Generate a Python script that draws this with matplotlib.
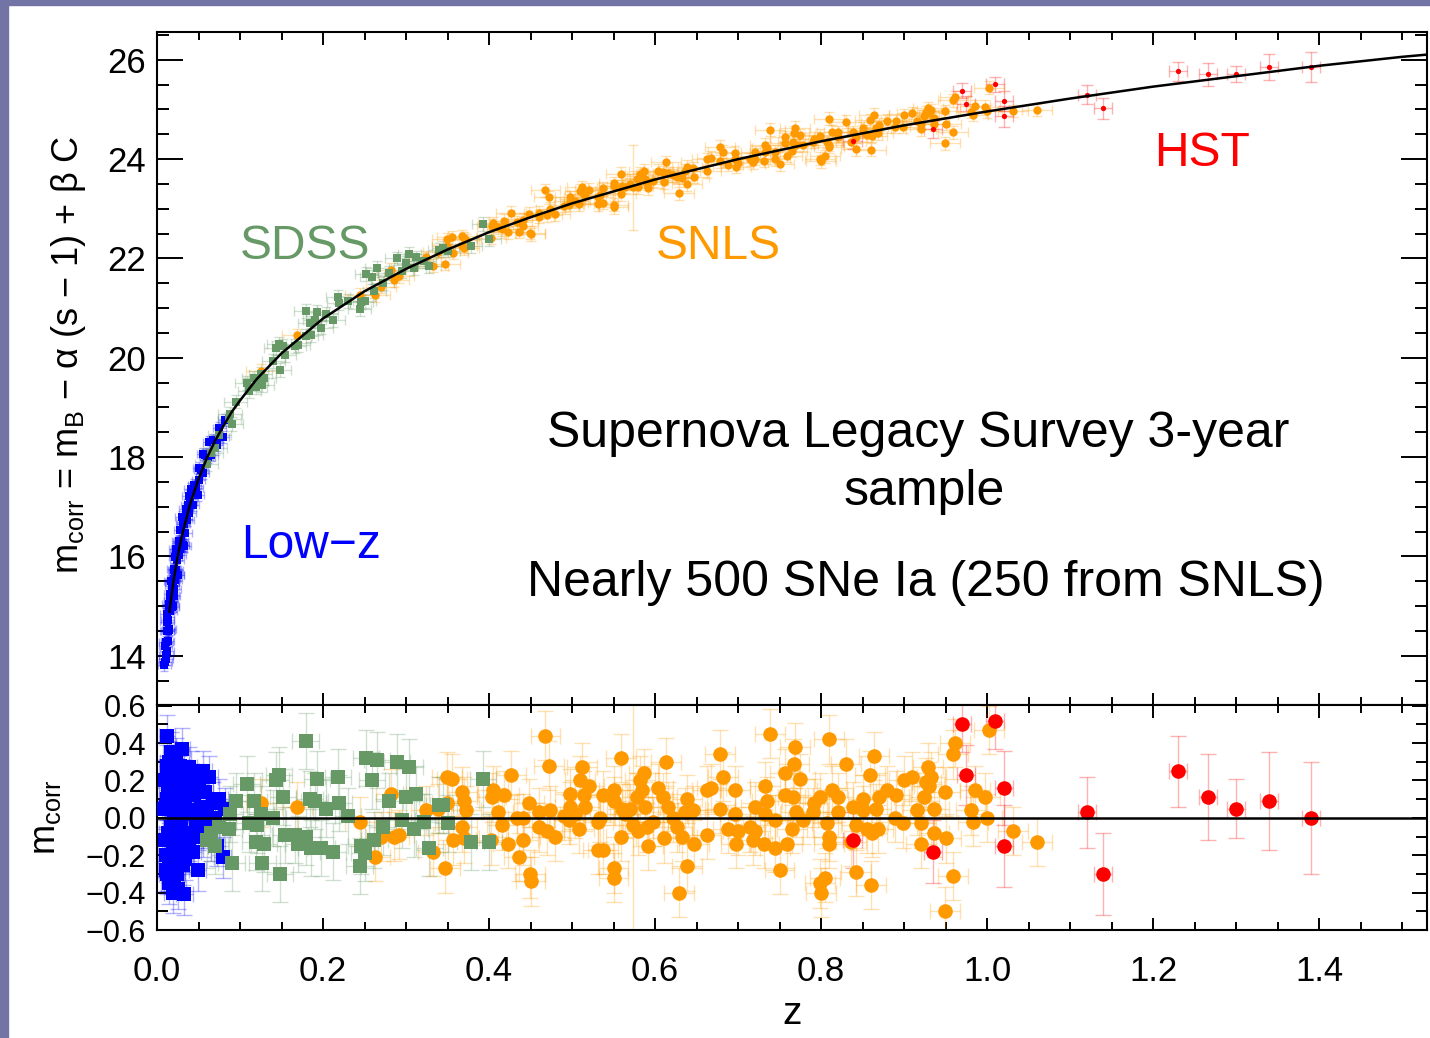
"""SNLS 3-year Hubble diagram: corrected magnitudes vs redshift, with residuals."""

import matplotlib.pyplot as plt
import numpy as np
from matplotlib.patches import Rectangle
from matplotlib.ticker import MultipleLocator

plt.rcParams["font.family"] = ["Liberation Sans", "DejaVu Sans"]
plt.rcParams["mathtext.fontset"] = "custom"
plt.rcParams["mathtext.rm"] = "Liberation Sans"
plt.rcParams["mathtext.it"] = "Liberation Sans:italic"

# %% Data
# best-fit model curve
model_z = [0.015, 0.02, 0.025, 0.03, 0.04, 0.05, 0.06, 0.07, 0.08, 0.09, 0.10,
           0.12, 0.15, 0.20, 0.25, 0.30, 0.35, 0.40, 0.45, 0.50, 0.60, 0.70,
           0.80, 0.90, 1.00, 1.10, 1.20, 1.30, 1.40, 1.50, 1.60]
model_m = [14.89, 15.52, 16.01, 16.42, 17.06, 17.56, 17.98, 18.33, 18.63, 18.91,
           19.14, 19.57, 20.09, 20.79, 21.34, 21.79, 22.18, 22.53, 22.83, 23.11,
           23.59, 24.00, 24.36, 24.68, 24.96, 25.22, 25.46, 25.67, 25.88, 26.06,
           26.21]

# Low-z sample
lowz_z = [0.009, 0.010, 0.011, 0.012, 0.012, 0.013, 0.013, 0.014, 0.014, 0.015,
          0.015, 0.016, 0.016, 0.017, 0.017, 0.018, 0.018, 0.019, 0.019, 0.020,
          0.020, 0.021, 0.021, 0.022, 0.023, 0.023, 0.024, 0.024, 0.025, 0.025,
          0.026, 0.026, 0.027, 0.028, 0.029, 0.030, 0.030, 0.031, 0.032, 0.033,
          0.034, 0.035, 0.036, 0.038, 0.040, 0.041, 0.043, 0.045, 0.047, 0.049,
          0.051, 0.053, 0.055, 0.058, 0.060, 0.063, 0.065, 0.068, 0.072, 0.075,
          0.079, 0.011, 0.022, 0.027, 0.019,
          0.010, 0.011, 0.012, 0.012, 0.013, 0.016, 0.018, 0.020, 0.022, 0.024,
          0.028, 0.031, 0.034, 0.037, 0.039, 0.044, 0.050, 0.056, 0.062, 0.070,
          0.082]
lowz_m = [13.82, 13.88, 14.27, 14.84, 14.10, 14.72, 14.49, 14.52, 15.04, 14.97,
          14.54, 15.25, 14.91, 15.11, 15.51, 15.41, 15.49, 15.23, 15.01, 15.54,
          15.20, 15.35, 15.73, 15.98, 15.73, 16.15, 16.10, 15.92, 15.63, 16.15,
          16.16, 16.32, 16.03, 16.54, 16.32, 16.79, 16.24, 16.24, 16.66, 16.22,
          16.75, 16.96, 16.74, 17.21, 17.10, 17.36, 17.04, 17.44, 17.37, 17.24,
          17.79, 17.75, 17.68, 18.04, 18.00, 18.31, 18.04, 18.34, 18.24, 18.59,
          18.40, 14.01, 15.68, 16.30, 15.49,
          14.20, 13.93, 14.68, 14.50, 14.29, 15.08, 14.99, 15.74, 15.53, 15.62,
          16.16, 16.69, 16.48, 17.03, 16.88, 17.29, 17.54, 18.07, 18.00, 18.33,
          18.74]
lowz_res = [0.05, -0.12, 0.06, 0.44, -0.30, 0.15, -0.08, -0.22, 0.30, 0.08,
            -0.35, 0.22, -0.12, -0.05, 0.35, 0.12, 0.20, -0.18, -0.40, 0.02,
            -0.32, -0.28, 0.10, 0.25, -0.10, 0.32, 0.18, 0.00, -0.38, 0.14,
            0.06, 0.22, -0.15, 0.28, -0.02, 0.37, -0.18, -0.25, 0.10, -0.41,
            0.05, 0.20, -0.08, 0.27, 0.04, 0.25, -0.18, 0.12, -0.05, -0.28,
            0.18, 0.06, -0.10, 0.14, 0.02, 0.22, -0.12, 0.08, -0.15, 0.10,
            -0.21, -0.20, -0.05, 0.12, 0.08,
            0.20, -0.28, 0.28, 0.10, -0.28, 0.05, -0.30, 0.22, -0.20, -0.30,
            -0.10, 0.20, -0.22, 0.15, -0.12, 0.02, -0.02, 0.25, -0.05, 0.00,
            0.05]

# SDSS sample
sdss_z = [0.179, 0.252, 0.265, 0.289, 0.304, 0.259, 0.193, 0.218, 0.147, 0.143,
          0.108, 0.095, 0.117, 0.152, 0.184, 0.190, 0.219, 0.204, 0.088, 0.125,
          0.140, 0.230, 0.280, 0.300, 0.312, 0.340, 0.295, 0.322, 0.351, 0.065,
          0.075, 0.087, 0.111, 0.120, 0.154, 0.166, 0.180, 0.170, 0.186, 0.119,
          0.129, 0.198, 0.212, 0.246, 0.250, 0.262, 0.272, 0.310, 0.328, 0.090,
          0.127, 0.148, 0.244, 0.378, 0.393, 0.345, 0.400, 0.060, 0.070]
sdss_m = [20.94, 21.68, 21.80, 22.00, 22.09, 21.63, 20.93, 21.23, 20.27, 20.19,
          19.50, 19.12, 19.60, 20.23, 20.70, 20.77, 21.10, 20.89, 18.87, 19.68,
          19.94, 21.15, 21.71, 21.90, 22.02, 22.17, 21.74, 21.95, 22.16, 18.08,
          18.44, 18.77, 19.34, 19.53, 20.06, 20.24, 20.44, 20.26, 20.46, 19.42,
          19.60, 20.61, 20.76, 21.13, 21.15, 21.34, 21.50, 21.81, 21.84, 18.67,
          19.46, 19.76, 20.98, 22.25, 22.69, 22.21, 22.40, 17.86, 18.18]
sdss_res = [0.41, 0.32, 0.31, 0.30, 0.27, 0.20, 0.21, 0.22, 0.23, 0.20,
            0.18, 0.09, 0.09, 0.11, 0.10, 0.09, 0.08, 0.05, 0.02, 0.02,
            0.00, 0.01, 0.09, 0.11, 0.13, 0.07, -0.01, -0.02, -0.03, -0.08,
            -0.05, -0.06, -0.03, -0.04, -0.09, -0.09, -0.10, -0.14, -0.16, -0.13,
            -0.14, -0.16, -0.18, -0.15, -0.19, -0.12, -0.05, -0.06, -0.16, -0.24,
            -0.24, -0.30, -0.26, -0.13, 0.21, 0.07, -0.13, -0.12, -0.15]

# SNLS sample
snls_z = [0.125, 0.169, 0.282, 0.245, 0.270, 0.263, 0.285, 0.292, 0.324, 0.338,
          0.349, 0.332,
          0.347, 0.349, 0.355, 0.368, 0.370, 0.372, 0.368, 0.357, 0.370, 0.402,
          0.405, 0.403, 0.418, 0.411, 0.416, 0.423, 0.426, 0.436, 0.434, 0.441,
          0.441, 0.448, 0.449, 0.450, 0.460, 0.460, 0.468, 0.472, 0.470, 0.474,
          0.479, 0.490, 0.498, 0.498, 0.496, 0.504, 0.508, 0.512, 0.510, 0.514,
          0.516, 0.521, 0.531, 0.534, 0.531, 0.537, 0.537, 0.551, 0.551, 0.550,
          0.550, 0.559, 0.559, 0.560, 0.564, 0.570, 0.574, 0.579, 0.578, 0.582,
          0.584, 0.587, 0.588, 0.590, 0.592, 0.598, 0.604, 0.609, 0.613, 0.611,
          0.616, 0.622, 0.627, 0.629, 0.632, 0.638, 0.639, 0.636, 0.646, 0.647,
          0.662, 0.668, 0.662, 0.678, 0.682, 0.678, 0.688, 0.696, 0.698, 0.696,
          0.739, 0.700, 0.721, 0.732, 0.735, 0.733, 0.715, 0.721, 0.718, 0.731,
          0.745, 0.744, 0.750, 0.759, 0.756, 0.757, 0.766, 0.769, 0.767, 0.775,
          0.770, 0.765, 0.778, 0.791, 0.799, 0.790, 0.799, 0.800, 0.805, 0.807,
          0.810, 0.810, 0.810, 0.813, 0.821, 0.820, 0.830, 0.839, 0.842, 0.836,
          0.842, 0.850, 0.851, 0.855, 0.859, 0.864, 0.860, 0.861, 0.866, 0.869,
          0.870, 0.880, 0.890, 0.889, 0.899, 0.900, 0.909, 0.915, 0.920, 0.920,
          0.924, 0.927, 0.929, 0.933, 0.930, 0.936, 0.936, 0.949, 0.951, 0.949,
          0.959, 0.959, 0.961, 0.981, 0.983, 0.985, 0.998, 1.000, 1.002, 1.031,
          1.060]
snls_m = [19.74, 20.45, 21.77, 21.27, 21.43, 21.26, 21.56, 21.64, 22.02, 22.14,
          22.25, 21.85,
          21.89, 22.39, 22.43, 22.45, 22.41, 22.37, 22.26, 22.11, 22.21, 22.42,
          22.71, 22.66, 22.76, 22.63, 22.59, 22.53, 22.92, 22.54, 22.73, 22.78,
          22.66, 22.90, 22.52, 22.49, 22.92, 22.84, 23.37, 23.23, 22.87, 23.00,
          22.89, 23.06, 23.23, 23.16, 23.08, 23.15, 23.09, 23.44, 23.36, 23.30,
          23.25, 23.38, 23.24, 23.27, 23.09, 23.12, 23.41, 23.51, 23.45, 23.08,
          23.03, 23.71, 23.29, 23.45, 23.44, 23.50, 23.43, 23.43, 23.60, 23.71,
          23.67, 23.77, 23.60, 23.50, 23.41, 23.56, 23.77, 23.74, 23.94, 23.53,
          23.72, 23.68, 23.65, 23.31, 23.62, 23.49, 23.85, 23.77, 23.82, 23.64,
          24.00, 24.03, 23.76, 24.25, 24.15, 23.96, 23.89, 24.13, 23.85, 24.00,
          24.59, 23.93, 24.14, 24.29, 24.22, 24.14, 24.00, 24.01, 23.94, 23.97,
          24.15, 24.00, 23.90, 24.07, 24.44, 24.33, 24.35, 24.63, 24.53, 24.48,
          24.28, 24.17, 24.28, 24.41, 24.47, 24.35, 24.01, 23.96, 24.06, 24.35,
          24.29, 24.25, 24.81, 24.55, 24.54, 24.45, 24.75, 24.54, 24.45, 24.35,
          24.20, 24.62, 24.56, 24.48, 24.78, 24.89, 24.19, 24.47, 24.62, 24.52,
          24.69, 24.77, 24.77, 24.65, 24.65, 24.88, 24.93, 24.76, 24.71, 24.60,
          24.86, 24.95, 25.03, 24.99, 24.93, 24.83, 24.70, 24.96, 24.71, 24.32,
          24.54, 25.19, 25.25, 24.95, 24.89, 25.07, 25.06, 24.96, 25.44, 24.97,
          24.99]
snls_res = [0.08, 0.06, 0.13, -0.02, -0.10, -0.21, -0.10, -0.09, 0.04, 0.05,
            0.08, -0.18,
            -0.27, 0.22, 0.21, 0.14, 0.09, 0.04, -0.05, -0.12, -0.11, -0.12,
            0.15, 0.11, 0.12, 0.03, -0.04, -0.14, 0.23, -0.21, 0.00, 0.00,
            -0.12, 0.08, -0.30, -0.34, 0.03, -0.05, 0.44, 0.28, -0.07, 0.04,
            -0.10, 0.01, 0.13, 0.06, -0.01, 0.02, -0.06, 0.27, 0.20, 0.12,
            0.06, 0.17, -0.02, 0.00, -0.17, -0.17, 0.12, 0.15, 0.09, -0.27,
            -0.32, 0.32, -0.10, 0.05, 0.02, 0.05, -0.04, -0.07, 0.11, 0.20,
            0.15, 0.24, 0.06, -0.05, -0.15, -0.02, 0.16, 0.11, 0.30, -0.11,
            0.06, 0.00, -0.05, -0.40, -0.10, -0.26, 0.10, 0.03, 0.04, -0.14,
            0.15, 0.16, -0.09, 0.34, 0.22, 0.05, -0.06, 0.15, -0.14, 0.02,
            0.45, -0.07, 0.06, 0.17, 0.09, 0.02, -0.05, -0.07, -0.12, -0.14,
            -0.01, -0.16, -0.28, -0.14, 0.24, 0.12, 0.11, 0.38, 0.29, 0.21,
            0.03, -0.06, -0.01, 0.08, 0.11, 0.03, -0.35, -0.40, -0.32, -0.03,
            -0.10, -0.14, 0.42, 0.15, 0.11, 0.03, 0.29, 0.06, -0.04, -0.13,
            -0.29, 0.10, 0.04, -0.06, 0.23, 0.33, -0.36, -0.08, 0.05, -0.06,
            0.11, 0.15, 0.12, 0.00, -0.03, 0.20, 0.22, 0.04, -0.03, -0.14,
            0.11, 0.19, 0.27, 0.22, 0.17, 0.05, -0.08, 0.14, -0.11, -0.50,
            -0.31, 0.34, 0.40, 0.04, -0.02, 0.15, 0.11, 0.00, 0.47, -0.07,
            -0.13]
snls_wide_err_z = 0.574  # the one SN with a huge error bar

# HST sample
hst_z = [0.838, 0.935, 0.970, 0.975, 1.010, 1.020, 1.020, 1.120, 1.140, 1.230,
         1.266, 1.300, 1.340, 1.390]
hst_m = [24.36, 24.60, 25.38, 25.12, 25.51, 25.17, 24.86, 25.30, 25.02, 25.77,
         25.71, 25.72, 25.85, 25.86]
hst_res = [-0.12, -0.18, 0.50, 0.23, 0.52, 0.16, -0.15, 0.03, -0.30, 0.25,
           0.11, 0.05, 0.09, 0.00]
hst_err = [0.15, 0.17, 0.15, 0.16, 0.15, 0.20, 0.22, 0.19, 0.22, 0.19,
           0.23, 0.16, 0.26, 0.30]

# typical error bars per survey: (z error, magnitude error)
lowz_err = (0.008, 0.12)
sdss_err = (0.014, 0.14)
snls_err = (0.018, 0.13)
hst_zerr = 0.011

C_LOWZ, C_SDSS, C_SNLS, C_HST = "#0000ff", "#669966", "#ff9900", "#ff0000"


# %% Helpers
def draw_points(ax, x, y, xerr, yerr, color, marker, ms, capsize):
    ax.errorbar(x, y, xerr=xerr, yerr=yerr, fmt="none", ecolor=color,
                alpha=0.3, elinewidth=1, capsize=capsize, capthick=1, zorder=2)
    ax.plot(x, y, linestyle="none", marker=marker, ms=ms, color=color,
            mew=0, zorder=3)


snls_yerr_top = np.where(np.isclose(snls_z, snls_wide_err_z), 0.85, snls_err[1])
snls_yerr_bot = np.where(np.isclose(snls_z, snls_wide_err_z), 0.75, snls_err[1])

# %% Figure
W, H = 1430, 1038
fig = plt.figure(figsize=(W / 100, H / 100), dpi=100)
fig.patches.append(Rectangle((0, 0), 8 / W, 1, transform=fig.transFigure,
                             color="#7174a4", zorder=0))
fig.patches.append(Rectangle((0, 1 - 5 / H), 1, 5 / H, transform=fig.transFigure,
                             color="#7174a4", zorder=0))

ax = fig.add_axes([157 / W, 1 - 705 / H, 1270 / W, 673 / H])
axr = fig.add_axes([157 / W, 1 - 930 / H, 1270 / W, 225 / H], sharex=ax)

# top panel: Hubble diagram
draw_points(ax, snls_z, snls_m, snls_err[0], snls_yerr_top, C_SNLS, "o", 6, 3.5)
draw_points(ax, lowz_z, lowz_m, lowz_err[0], lowz_err[1], C_LOWZ, "s", 6, 3)
draw_points(ax, sdss_z, sdss_m, sdss_err[0], sdss_err[1], C_SDSS, "s", 6, 3.5)
draw_points(ax, hst_z, hst_m, hst_zerr, hst_err, C_HST, "o", 3.8, 4)
ax.plot(model_z, model_m, color="black", lw=1.8, zorder=4)

ax.set_xlim(0, 1.53)
ax.set_ylim(13.01, 26.56)
ax.yaxis.set_major_locator(MultipleLocator(2))
ax.yaxis.set_minor_locator(MultipleLocator(0.5))
ax.set_yticks([14, 16, 18, 20, 22, 24, 26])

ax.text(0.178, 21.99, "SDSS", color=C_SDSS, fontsize=34.5, ha="center", va="baseline")
ax.text(0.676, 21.99, "SNLS", color=C_SNLS, fontsize=34.5, ha="center", va="baseline")
ax.text(1.259, 23.87, "HST", color=C_HST, fontsize=34.5, ha="center", va="baseline")
ax.text(0.1855, 15.97, "Low\u2212z", color=C_LOWZ, fontsize=34.5, ha="center",
        va="baseline")
ax.text(0.599, 0.3834, "Supernova Legacy Survey 3-year", transform=ax.transAxes,
        fontsize=36, ha="center", va="baseline")
ax.text(0.604, 0.2972, "sample", transform=ax.transAxes, fontsize=36,
        ha="center", va="baseline")
ax.text(0.605, 0.1620, "Nearly 500 SNe Ia (250 from SNLS)", transform=ax.transAxes,
        fontsize=36, ha="center", va="baseline")

ax.set_ylabel(r"m$_\mathregular{corr}$ = m$_\mathregular{B}$ $-$ α (s $-$ 1) + β C",
              fontsize=26)
ax.yaxis.set_label_coords(-0.054, 0.52)

# bottom panel: residuals
draw_points(axr, snls_z, snls_res, snls_err[0], snls_yerr_bot, C_SNLS, "o", 10.5, 6)
draw_points(axr, lowz_z, lowz_res, 0.01, 0.11, C_LOWZ, "s", 10, 6)
draw_points(axr, sdss_z, sdss_res, 0.016, 0.15, C_SDSS, "s", 10, 6)
draw_points(axr, hst_z, hst_res, hst_zerr, hst_err, C_HST, "o", 10.5, 6)
axr.axhline(0, color="black", lw=1.8, zorder=4)

axr.set_ylim(-0.6, 0.604)
axr.set_yticks([-0.6, -0.4, -0.2, 0.0, 0.2, 0.4, 0.6],
               ["\u22120.6", "\u22120.4", "\u22120.2", "0.0", "0.2", "0.4", "0.6"])
axr.yaxis.set_minor_locator(MultipleLocator(0.1))
axr.set_xticks([0.0, 0.2, 0.4, 0.6, 0.8, 1.0, 1.2, 1.4],
               ["0.0", "0.2", "0.4", "0.6", "0.8", "1.0", "1.2", "1.4"])
axr.xaxis.set_minor_locator(MultipleLocator(0.05))
axr.set_xlim(0, 1.53)

axr.set_ylabel(r"m$_\mathregular{corr}$", fontsize=26)
axr.yaxis.set_label_coords(-0.074, 0.5)
axr.set_xlabel("z", fontsize=28, labelpad=6)

for a in (ax, axr):
    for s in a.spines.values():
        s.set_linewidth(1.5)
    a.tick_params(which="both", direction="in", top=True, right=True, width=1.4)
    a.tick_params(axis="x", which="major", length=9)
    a.tick_params(axis="x", which="minor", length=5.5)
ax.tick_params(axis="y", which="major", length=18.5, labelsize=25, pad=8)
ax.tick_params(axis="y", which="minor", length=8.5)
ax.tick_params(axis="x", labelbottom=False)
axr.tick_params(axis="y", which="major", length=11, labelsize=22, pad=8)
axr.tick_params(axis="y", which="minor", length=8)
axr.tick_params(axis="x", labelsize=25, pad=18)

fig.savefig("out.png", dpi=100)
